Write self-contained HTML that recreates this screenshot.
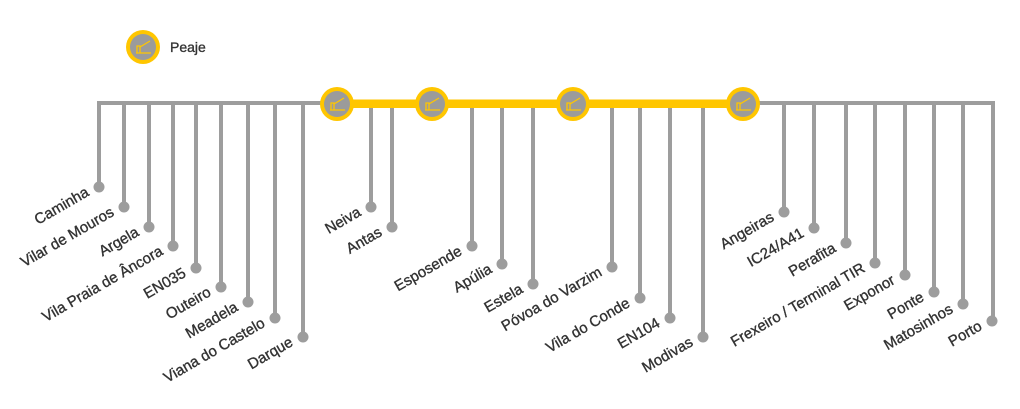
<!DOCTYPE html>
<html><head><meta charset="utf-8"><style>
html,body{margin:0;padding:0;background:#fff;}
svg text{font-family:"Liberation Sans","DejaVu Sans",sans-serif;font-size:15px;fill:#333;stroke:#333;stroke-width:0.35;}
</style></head><body>
<svg width="1020" height="404" viewBox="0 0 1020 404" xmlns="http://www.w3.org/2000/svg">
<defs>
<g id="toll">
<circle r="17" fill="#FFC600"/>
<circle r="13" fill="#9b9b9b"/>
<path d="M-7 6 H8 M-6 6 V-1 H-3 V6 M-3 0 L7 -6" stroke="#FFC600" stroke-width="1.3" fill="none"/>
</g>
</defs>
<g stroke="#9d9d9d" stroke-width="4" fill="none">
<path d="M99 187 V103 H993 V318"/>
<path d="M124 103V207 M149 103V227 M173 103V246 M196 103V268 M221 103V287 M248 103V302 M275 103V318 M303 103V337 M371 103V207 M392 103V227 M472 103V246 M502 103V264 M533 103V284 M612 103V267 M640 103V298 M670 103V318 M703 103V337 M784 103V212 M814 103V228 M846 103V243 M875 103V263 M905 103V275 M934 103V292 M963 103V304"/>
</g>
<rect x="337" y="99.5" width="406" height="8.5" fill="#FFC600"/>
<g fill="#9d9d9d">
<circle cx="99" cy="187" r="5.5"/><circle cx="124" cy="207" r="5.5"/><circle cx="149" cy="227" r="5.5"/><circle cx="173" cy="246" r="5.5"/><circle cx="196" cy="268" r="5.5"/><circle cx="221" cy="287" r="5.5"/><circle cx="248" cy="302" r="5.5"/><circle cx="275" cy="318" r="5.5"/><circle cx="303" cy="337" r="5.5"/><circle cx="371" cy="207" r="5.5"/><circle cx="392" cy="227" r="5.5"/><circle cx="472" cy="246" r="5.5"/><circle cx="502" cy="264" r="5.5"/><circle cx="533" cy="284" r="5.5"/><circle cx="612" cy="267" r="5.5"/><circle cx="640" cy="298" r="5.5"/><circle cx="670" cy="318" r="5.5"/><circle cx="703" cy="337" r="5.5"/><circle cx="784" cy="212" r="5.5"/><circle cx="814" cy="228" r="5.5"/><circle cx="846" cy="243" r="5.5"/><circle cx="875" cy="263" r="5.5"/><circle cx="905" cy="275" r="5.5"/><circle cx="934" cy="292" r="5.5"/><circle cx="963" cy="304" r="5.5"/><circle cx="992" cy="321" r="5.5"/>
</g>
<use href="#toll" x="143" y="47"/>
<use href="#toll" x="337" y="104"/>
<use href="#toll" x="432" y="104"/>
<use href="#toll" x="573" y="104"/>
<use href="#toll" x="743" y="104"/>
<text x="170" y="52" style="font-size:14px">Peaje</text>
<g text-anchor="end">
<text transform="translate(90,195) rotate(-30)">Caminha</text>
<text transform="translate(115,215) rotate(-30)">Vilar de Mouros</text>
<text transform="translate(140,235) rotate(-30)">Argela</text>
<text transform="translate(164,254) rotate(-30)">Vila Praia de Âncora</text>
<text transform="translate(187,276) rotate(-30)">EN035</text>
<text transform="translate(212,295) rotate(-30)">Outeiro</text>
<text transform="translate(239,310) rotate(-30)">Meadela</text>
<text transform="translate(266,326) rotate(-30)">Viana do Castelo</text>
<text transform="translate(294,345) rotate(-30)">Darque</text>
<text transform="translate(362,215) rotate(-30)">Neiva</text>
<text transform="translate(383,235) rotate(-30)">Antas</text>
<text transform="translate(463,254) rotate(-30)">Esposende</text>
<text transform="translate(493,272) rotate(-30)">Apúlia</text>
<text transform="translate(524,292) rotate(-30)">Estela</text>
<text transform="translate(603,275) rotate(-30)">Póvoa do Varzim</text>
<text transform="translate(631,306) rotate(-30)">Vila do  Conde</text>
<text transform="translate(661,326) rotate(-30)">EN104</text>
<text transform="translate(694,345) rotate(-30)">Modivas</text>
<text transform="translate(775,220) rotate(-30)">Angeiras</text>
<text transform="translate(805,236) rotate(-30)">IC24/A41</text>
<text transform="translate(837,251) rotate(-30)">Perafita</text>
<text transform="translate(866,271) rotate(-30)">Frexeiro / Terminal TIR</text>
<text transform="translate(896,283) rotate(-30)">Exponor</text>
<text transform="translate(925,300) rotate(-30)">Ponte</text>
<text transform="translate(954,312) rotate(-30)">Matosinhos</text>
<text transform="translate(983,329) rotate(-30)">Porto</text>
</g>
</svg>
</body></html>
